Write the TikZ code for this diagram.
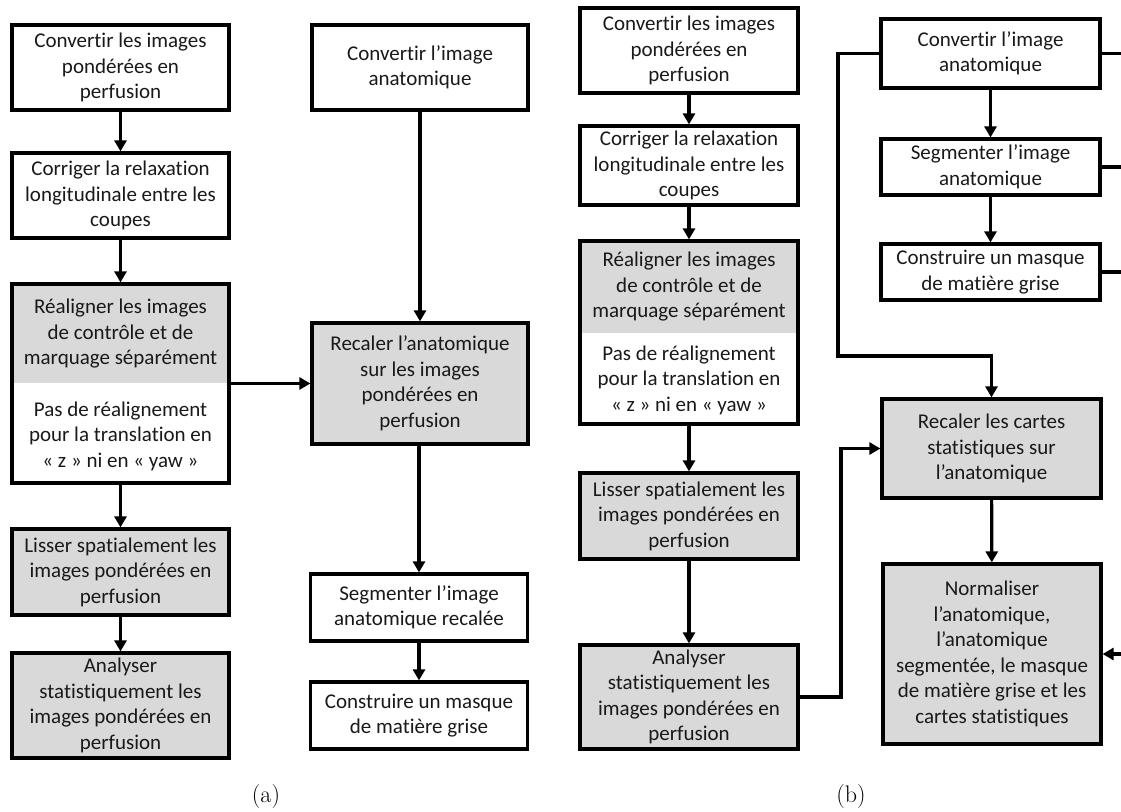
\documentclass[tikz,border=0pt]{standalone}
\usepackage{fontspec}
\newfontfamily\calibri[Ligatures=NoCommon]{Carlito}
\usetikzlibrary{arrows.meta}
\definecolor{boxgray}{HTML}{D9D9D9}
\tikzset{
  box/.style={draw=black, line width=3.2pt, inner sep=0pt, align=center,
    font=\calibri\fontsize{21}{25.5}\selectfont, text=black!90},
  gbox/.style={box, fill=boxgray},
  txt/.style={inner sep=0pt, align=center, font=\calibri\fontsize{21}{25.5}\selectfont, text=black!90},
  conn/.style={line width=3.2pt, -{Triangle[length=11pt,width=12pt]}},
  line/.style={line width=3.2pt},
  lbl/.style={inner sep=0pt, font=\fontsize{24}{28}\selectfont}
}
\begin{document}
\begin{tikzpicture}[x=1pt,y=-1pt]
\useasboundingbox (0,0) rectangle (1121,811);
% ---------- panel (a) ----------
\node[box, minimum width=217pt, minimum height=85pt] (A1) at (120.5,67.5)
  {Convertir les images\\pondérées en\\perfusion};
\node[box, minimum width=217pt, minimum height=85pt] (A2) at (120.5,195.5)
  {Corriger la relaxation\\longitudinale entre les\\coupes};
\fill[boxgray] (12,284) rectangle (229,383);
\node[box, minimum width=217pt, minimum height=199pt] (A3) at (120.5,383.5) {};
\node[txt] (A3g) at (120.5,334) {Réaligner les images\\de contrôle et de\\marquage séparément};
\node[txt] (A3w) at (120.5,436) {Pas de réalignement\\pour la translation en\\« z » ni en « yaw »};
\node[gbox, minimum width=217pt, minimum height=86pt] (A4) at (120.5,572)
  {Lisser spatialement les\\images pondérées en\\perfusion};
\node[gbox, minimum width=217pt, minimum height=105pt] (A5) at (120.5,705.5)
  {Analyser\\statistiquement les\\images pondérées en\\perfusion};
\node[box, minimum width=216pt, minimum height=85pt] (B1) at (420,67.5)
  {Convertir l’image\\anatomique};
\node[gbox, minimum width=216pt, minimum height=121pt] (B2) at (420,383.5)
  {Recaler l’anatomique\\sur les images\\pondérées en\\perfusion};
\node[box, minimum width=217pt, minimum height=67pt] (B3) at (419,607.5)
  {Segmenter l’image\\anatomique recalée};
\node[box, minimum width=217pt, minimum height=67pt] (B4) at (419,715.5)
  {Construire un masque\\de matière grise};
\draw[conn] (A1) -- (A2);
\draw[conn] (A2) -- (A3);
\draw[conn] (A3) -- (A4);
\draw[conn] (A4) -- (A5);
\draw[conn] (A3.east) -- (B2.west);
\draw[conn] (B1) -- (B2);
\draw[conn] (B2.south -| B3) -- (B3);
\draw[conn] (B3) -- (B4);
\node[lbl] (la) at (266,797) {(a)};
% ---------- panel (b) ----------
\node[box, minimum width=218pt, minimum height=85pt] (C1) at (689,50.5)
  {Convertir les images\\pondérées en\\perfusion};
\node[box, minimum width=218pt, minimum height=79pt] (C2) at (689,165.5)
  {Corriger la relaxation\\longitudinale entre les\\coupes};
\fill[boxgray] (580,241) rectangle (798,333);
\node[box, minimum width=218pt, minimum height=183pt] (C3) at (689,332.5) {};
\node[txt] (C3g) at (689,287) {Réaligner les images\\de contrôle et de\\marquage séparément};
\node[txt] (C3w) at (689,380) {Pas de réalignement\\pour la translation en\\« z » ni en « yaw »};
\node[gbox, minimum width=218pt, minimum height=86pt] (C4) at (689,516)
  {Lisser spatialement les\\images pondérées en\\perfusion};
\node[gbox, minimum width=218pt, minimum height=104pt] (C5) at (689,697)
  {Analyser\\statistiquement les\\images pondérées en\\perfusion};
\node[box, minimum width=219pt, minimum height=69pt] (D1) at (990.5,53.5)
  {Convertir l’image\\anatomique};
\node[box, minimum width=219pt, minimum height=56pt] (D2) at (990.5,167)
  {Segmenter l’image\\anatomique};
\node[box, minimum width=219pt, minimum height=56pt] (D3) at (990.5,272)
  {Construire un masque\\de matière grise};
\node[gbox, minimum width=219pt, minimum height=99pt] (D4) at (991.5,448.5)
  {Recaler les cartes\\statistiques sur\\l’anatomique};
\node[gbox, minimum width=218pt, minimum height=180pt] (D5) at (992,654)
  {Normaliser\\l’anatomique,\\l’anatomique\\segmentée, le masque\\de matière grise et les\\cartes statistiques};
\draw[conn] (C1) -- (C2);
\draw[conn] (C2) -- (C3);
\draw[conn] (C3) -- (C4);
\draw[conn] (C4) -- (C5);
\draw[conn] (D1.south -| D2) -- (D2);
\draw[conn] (D2) -- (D3);
\draw[conn] (D4) -- (D5);
\coordinate (J1) at (838,356);
\draw[conn] (D1.west) -| (J1) -| (D4.north);
\coordinate (J2) at (841,448.5);
\draw[conn] (C5.east) -| (J2) -- (D4.west);
\coordinate (E1) at (1121,53.5);
\coordinate (E2) at (1121,167);
\coordinate (E3) at (1121,272);
\coordinate (E4) at (1121,654);
\draw[line] (D1.east) -- (E1);
\draw[line] (D2.east) -- (E2);
\draw[line] (D3.east) -- (E3);
\draw[conn] (E4) -- (D5.east);
\node[lbl] (lb) at (851,797) {(b)};
\end{tikzpicture}
\end{document}
